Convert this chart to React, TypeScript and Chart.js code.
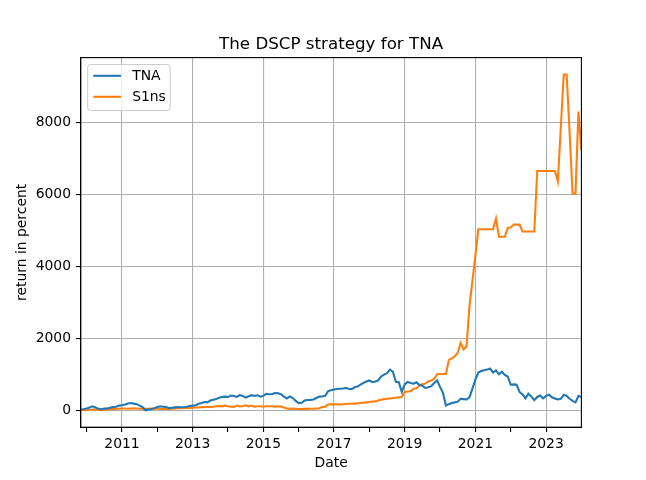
import { useEffect, useRef } from "react";
import { Chart, registerables } from "chart.js";

Chart.register(...registerables);

const START_YEAR = 2009;
const START_MONTH = 11;

const tna = [
  20, 30, 50, 80, 110, 80, 40, 30, 50, 50,
  70, 90, 100, 130, 140, 160, 190, 200, 185, 170,
  130, 90, 0, 20, 30, 60, 90, 110, 100, 90,
  60, 70, 80, 90, 85, 90, 100, 120, 130, 140,
  180, 200, 230, 220, 270, 290, 310, 350, 370, 380,
  370, 410, 395, 370, 420, 400, 350, 390, 420, 400,
  415, 380, 400, 460, 445, 450, 480, 470, 450, 380,
  330, 385, 340, 260, 200, 210, 270, 285, 290, 300,
  340, 380, 385, 400, 530, 560, 575, 590, 600, 605,
  620, 600, 590, 640, 660, 710, 760, 800, 830, 780,
  800, 830, 940, 990, 1030, 1130, 1070, 790, 780, 510,
  720, 790, 760, 740, 780, 700, 680, 620, 640, 670,
  760, 830, 650, 480, 130, 170, 200, 220, 240, 320,
  310, 300, 360, 600, 850, 1050, 1090, 1110, 1130, 1160,
  1050, 1110, 1000, 1070, 980, 940, 710, 720, 710, 510,
  440, 330, 460, 380, 280, 370, 410, 330, 400, 430,
  360, 330, 300, 320, 430, 400, 320, 260, 220, 400,
  370,
];

const s1ns = [
  20, 10, 0, 10, 20, 20, 10, 0, 10, 20,
  30, 40, 40, 45, 50, 50, 45, 50, 55, 50,
  45, 50, 40, 40, 50, 45, 50, 40, 40, 45,
  40, 45, 50, 55, 55, 60, 65, 65, 70, 75,
  80, 85, 90, 95, 90, 100, 110, 120, 110, 130,
  110, 100, 95, 130, 110, 120, 140, 110, 130, 100,
  110, 110, 100, 110, 110, 110, 100, 110, 105, 80,
  50, 40, 50, 45, 35, 35, 40, 40, 45, 45,
  50, 55, 90, 100, 160, 165, 170, 165, 160, 170,
  175, 180, 180, 185, 190, 200, 210, 220, 230, 240,
  250, 270, 290, 310, 320, 330, 340, 350, 360, 370,
  510, 520, 530, 600, 610, 700, 720, 740, 800, 830,
  870, 1000, 1010, 1010, 1010, 1400, 1440, 1500, 1600, 1870,
  1690, 1780, 2900, 3600, 4300, 5030, 5030, 5030, 5030, 5030,
  5030, 5330, 4820, 4820, 4820, 5070, 5080, 5160, 5160, 5160,
  4970, 4970, 4970, 4970, 4970, 6650, 6650, 6650, 6650, 6650,
  6650, 6650, 6360, 7850, 9330, 9330, 7700, 6020, 6020, 8300,
  7220,
];

const seriesNames = ["TNA", "S1ns"];
const seriesColors = ["#1f77b4", "#ff7f0e"];
const yTickValues = [0, 2000, 4000, 6000, 8000];
const xTickYears = [2010, 2011, 2012, 2013, 2014, 2015, 2016, 2017, 2018, 2019, 2020, 2021, 2022, 2023];
const xLabelYears = [2011, 2013, 2015, 2017, 2019, 2021, 2023];
const titleText = "The DSCP strategy for TNA";
const xTitle = "Date";
const yTitle = "return in percent";

// month positions (fractional year) for each value
const monthPositions = tna.map((_, i) => START_YEAR + (START_MONTH - 1 + i) / 12);

const W = 646;
const H = 480;
const AREA = { left: 80.75, right: 581.4, top: 57.6, bottom: 427.2 };
const FONT = "DejaVu Sans";
const FS = 13.9;

const framePlugin = {
  id: "mplFrame",
  afterDatasetsDraw(chart: any) {
    const { ctx, chartArea } = chart;
    ctx.save();
    ctx.strokeStyle = "#000";
    ctx.lineWidth = 1.1;
    ctx.strokeRect(chartArea.left, chartArea.top, chartArea.right - chartArea.left, chartArea.bottom - chartArea.top);
    // title
    ctx.fillStyle = "#000";
    ctx.font = `16.7px '${FONT}'`;
    ctx.textAlign = "center";
    ctx.textBaseline = "alphabetic";
    ctx.fillText(titleText, (chartArea.left + chartArea.right) / 2, chartArea.top - 8.3);
    // legend
    const bx = chartArea.left + 6.9;
    const by = chartArea.top + 6.9;
    const bw = 82.5;
    const bh = 46;
    ctx.beginPath();
    const r = 2.8;
    ctx.moveTo(bx + r, by);
    ctx.lineTo(bx + bw - r, by);
    ctx.arcTo(bx + bw, by, bx + bw, by + r, r);
    ctx.lineTo(bx + bw, by + bh - r);
    ctx.arcTo(bx + bw, by + bh, bx + bw - r, by + bh, r);
    ctx.lineTo(bx + r, by + bh);
    ctx.arcTo(bx, by + bh, bx, by + bh - r, r);
    ctx.lineTo(bx, by + r);
    ctx.arcTo(bx, by, bx + r, by, r);
    ctx.closePath();
    ctx.fillStyle = "rgba(255,255,255,0.8)";
    ctx.fill();
    ctx.strokeStyle = "#cccccc";
    ctx.lineWidth = 1;
    ctx.stroke();
    ctx.font = `${FS}px '${FONT}'`;
    ctx.textAlign = "left";
    ctx.textBaseline = "middle";
    chart.data.datasets.forEach((ds: any, i: number) => {
      const yy = by + 11.3 + i * 21;
      ctx.strokeStyle = ds.borderColor;
      ctx.lineWidth = 2.08;
      ctx.beginPath();
      ctx.moveTo(bx + 5.6, yy);
      ctx.lineTo(bx + 5.6 + 27.8, yy);
      ctx.stroke();
      ctx.fillStyle = "#000";
      ctx.fillText(ds.label, bx + 5.6 + 27.8 + 11.1, yy + 0.5);
    });
    ctx.restore();
  },
};

export default function App() {
  const ref = useRef<HTMLCanvasElement | null>(null);

  useEffect(() => {
    document.body.style.margin = "0";
    const canvas = ref.current;
    if (!canvas) return;
    Chart.defaults.font.family = FONT;
    Chart.defaults.font.size = FS;
    Chart.defaults.color = "#000";

    const series = [tna, s1ns];
    const chart = new Chart(canvas, {
      type: "line",
      data: {
        datasets: series.map((vals, k) => ({
          label: seriesNames[k],
          data: vals.map((v, i) => ({ x: monthPositions[i], y: v })),
          borderColor: seriesColors[k],
          backgroundColor: seriesColors[k],
          borderWidth: 2.08,
          pointRadius: 0,
          tension: 0,
          fill: false,
        })),
      },
      options: {
        animation: false,
        responsive: false,
        devicePixelRatio: 1,
        events: [],
        layout: { padding: { left: 0, top: AREA.top, right: W - AREA.right, bottom: 0 } },
        plugins: {
          legend: { display: false },
          title: { display: false },
          tooltip: { enabled: false },
        },
        scales: {
          x: {
            type: "linear",
            min: START_YEAR + (START_MONTH - 1) / 12,
            max: monthPositions[monthPositions.length - 1],
            afterBuildTicks: (scale: any) => {
              scale.ticks = xTickYears.map((v) => ({ value: v }));
            },
            afterFit: (scale: any) => {
              scale.height = H - AREA.bottom;
            },
            ticks: {
              autoSkip: false,
              maxRotation: 0,
              padding: 3.5,
              color: "#000",
              callback: (v: any) => (xLabelYears.includes(Number(v)) ? String(v) : ""),
            },
            grid: {
              color: (c: any) => (xLabelYears.includes(c.tick?.value) ? "#b0b0b0" : "rgba(0,0,0,0)"),
              lineWidth: 1.1,
              tickColor: "#000",
              tickLength: 4.86,
              tickWidth: 1.1,
            },
            border: { display: true, color: "#000", width: 1.1 },
            title: {
              display: true,
              text: xTitle,
              color: "#000",
              font: { size: FS, family: FONT },
              padding: { top: 0, bottom: 8 },
            },
          },
          y: {
            type: "linear",
            min: -470,
            max: 9800,
            afterBuildTicks: (scale: any) => {
              scale.ticks = yTickValues.map((v) => ({ value: v }));
            },
            afterFit: (scale: any) => {
              scale.width = AREA.left;
            },
            ticks: {
              padding: 4.86,
              color: "#000",
              callback: (v: any) => String(v),
            },
            grid: {
              color: "#b0b0b0",
              lineWidth: 1.1,
              tickColor: "#000",
              tickLength: 4.86,
              tickWidth: 1.1,
            },
            border: { display: true, color: "#000", width: 1.1 },
            title: {
              display: true,
              text: yTitle,
              color: "#000",
              font: { size: FS, family: FONT },
              padding: { top: 14, bottom: 0 },
            },
          },
        },
      },
      plugins: [framePlugin],
    } as any);

    return () => chart.destroy();
  }, []);

  return <canvas ref={ref} width={W} height={H} style={{ display: "block", width: W, height: H }} />;
}
